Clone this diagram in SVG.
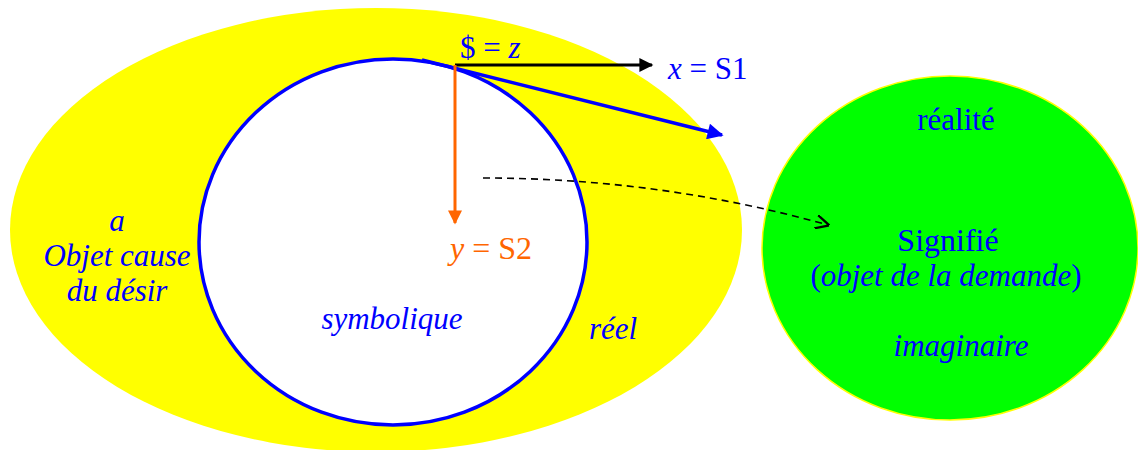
<svg xmlns="http://www.w3.org/2000/svg" width="1138" height="450" viewBox="0 0 1138 450">
<style>
text{font-family:"Liberation Serif","Times New Roman",serif;font-size:31px;fill:#0000FF}
.i{font-style:italic}
.c{text-anchor:middle}
.o{fill:#FF6600}
</style>
<defs>
<marker id="ab" viewBox="0 0 10 10" refX="9" refY="5" markerWidth="20" markerHeight="16" markerUnits="userSpaceOnUse" orient="auto"><path d="M0,0 L10,5 L0,10 z" fill="#0000FF"/></marker>
<marker id="ak" viewBox="0 0 10 10" refX="9" refY="5" markerWidth="16" markerHeight="14" markerUnits="userSpaceOnUse" orient="auto"><path d="M0,0 L10,5 L0,10 z" fill="#000"/></marker>
<marker id="ao" viewBox="0 0 10 10" refX="9" refY="5" markerWidth="16" markerHeight="14" markerUnits="userSpaceOnUse" orient="auto"><path d="M0,0 L10,5 L0,10 z" fill="#FF6600"/></marker>
<marker id="ad" viewBox="0 0 10 10" refX="9" refY="5" markerWidth="14" markerHeight="14" markerUnits="userSpaceOnUse" orient="auto"><path d="M0,0 L10,5 L0,10" fill="none" stroke="#000" stroke-width="1.6"/></marker>
</defs>
<g id="reel">
<ellipse cx="376" cy="230" rx="366" ry="222" fill="#FFFF00"/>
<text x="613" y="339" class="i c">réel</text>
</g>
<g id="symbolique">
<ellipse cx="393" cy="242" rx="194" ry="183" fill="#fff" stroke="#0000FF" stroke-width="3.5"/>
<text x="392" y="329" class="i c">symbolique</text>
</g>
<g id="objet-a">
<text x="117" y="231" class="i c">a</text>
<text x="117" y="266" class="i c">Objet cause</text>
<text x="117" y="301" class="i c">du désir</text>
</g>
<g id="imaginaire">
<ellipse cx="950" cy="248" rx="188" ry="172" fill="#00FF00" stroke="#FFFF00" stroke-width="1.5"/>
<text x="956" y="130" class="c">réalité</text>
<text x="948" y="251" class="c" style="font-size:32px">Signifié</text>
<text x="946" y="286" class="c">(<tspan class="i">objet de la demande</tspan>)</text>
<text x="961" y="356" class="i c">imaginaire</text>
</g>
<g id="labels">
<text x="460" y="58">$ = <tspan class="i">z</tspan></text>
<text x="668" y="79"><tspan class="i">x</tspan> = S1</text>
<text x="450" y="259" class="o" style="font-size:32px"><tspan class="i">y</tspan> = S2</text>
</g>
<g id="connectors">
<path d="M422,60 L722,135" stroke="#0000FF" stroke-width="3.5" fill="none" marker-end="url(#ab)"/>
<path d="M455,65 L652,65" stroke="#000" stroke-width="3" fill="none" marker-end="url(#ak)"/>
<path d="M455,65 L455,223" stroke="#FF6600" stroke-width="3" fill="none" marker-end="url(#ao)"/>
<path d="M483,178 Q660,178 828,225" stroke="#000" stroke-width="1.6" stroke-dasharray="7,5" fill="none" marker-end="url(#ad)"/>
</g>
</svg>
